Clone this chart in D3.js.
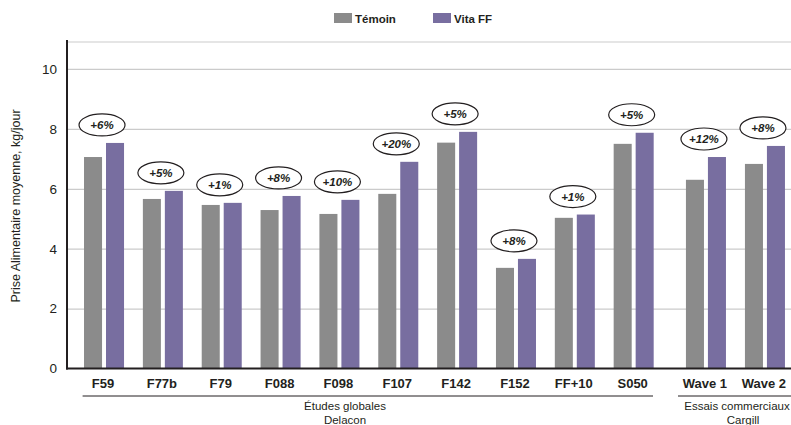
<!DOCTYPE html>
<html>
<head>
<meta charset="utf-8">
<script src="https://cdn.jsdelivr.net/npm/d3@7"></script>
<style>
  html, body { margin: 0; padding: 0; background: #fff; }
  svg { display: block; font-family: Helvetica, Arial, "Liberation Sans", sans-serif; }
</style>
</head>
<body>
<svg id="chart" width="791" height="425"></svg>
<script>
// ---- Data ----
const series = ["Témoin", "Vita FF"];
const groupDelacon = ["F59", "F77b", "F79", "F088", "F098", "F107", "F142", "F152", "FF+10", "S050"];
const groupCargill = ["Wave 1", "Wave 2"];
const temoinValues = [7.06, 5.66, 5.46, 5.29, 5.16, 5.83, 7.54, 3.36, 5.03, 7.50, 6.30, 6.83];
const vitaValues   = [7.53, 5.93, 5.53, 5.76, 5.63, 6.90, 7.90, 3.66, 5.14, 7.87, 7.06, 7.43];
const gainLabels   = ["+6%", "+5%", "+1%", "+8%", "+10%", "+20%", "+5%", "+8%", "+1%", "+5%", "+12%", "+8%"];
const yTicks = [0, 2, 4, 6, 8, 10];
const groupTitles = [["Études globales", "Delacon"], ["Essais commerciaux", "Cargill"]];

const categories = groupDelacon.concat(groupCargill);
const rows = categories.map((c, i) => ({
  cat: c,
  group: i < groupDelacon.length ? 0 : 1,
  values: [temoinValues[i], vitaValues[i]],
  label: gainLabels[i]
}));

// ---- Layout ----
const colors = { "Témoin": "#8b8b8b", "Vita FF": "#786ea0" };
const svg = d3.select("#chart");
const W = 791;
const axisX = 67;

const y = d3.scaleLinear().domain([0, 10.9]).range([368.5, 42]);

const x1 = d3.scaleBand().domain(groupDelacon).range([74.6, 663.1]).paddingInner(0.32).paddingOuter(0.16);
const x2 = d3.scaleBand().domain(groupCargill).range([676.5, 794.5]).paddingInner(0.32).paddingOuter(0.16);
const xScales = [x1, x2];
const xs = d3.scaleBand().domain(series).range([0, x1.bandwidth()]).paddingInner(0.18);

// gridlines
const grid = svg.append("g").attr("transform", `translate(${axisX},0)`)
  .call(d3.axisLeft(y).tickValues(yTicks.slice(1)).tickSize(-(W - axisX)).tickFormat(""));
grid.select(".domain").remove();
grid.selectAll("line").attr("stroke", "#cbcbcb").attr("stroke-width", 1.2);
svg.append("line").attr("x1", axisX).attr("x2", W).attr("y1", y(10.9)).attr("y2", y(10.9))
  .attr("stroke", "#cbcbcb").attr("stroke-width", 1.2);

// y tick labels
const yAxis = svg.append("g").attr("transform", `translate(${axisX},0)`)
  .call(d3.axisLeft(y).tickValues(yTicks).tickSize(0).tickPadding(10).tickFormat(d3.format("d")));
yAxis.select(".domain").remove();
yAxis.selectAll("text").attr("font-size", 13.5).attr("fill", "#231f20")
  .attr("font-family", "Helvetica, Arial, 'Liberation Sans', sans-serif");

// bars
const gCats = svg.append("g").selectAll("g").data(rows).join("g")
  .attr("transform", d => `translate(${xScales[d.group](d.cat)},0)`);
gCats.selectAll("rect").data(d => series.map((s, i) => ({ s, v: d.values[i] }))).join("rect")
  .attr("x", d => xs(d.s)).attr("width", xs.bandwidth())
  .attr("y", d => y(d.v)).attr("height", d => y(0) - y(d.v))
  .attr("fill", d => colors[d.s]);

// axes lines
svg.append("line").attr("x1", axisX).attr("x2", axisX).attr("y1", 40).attr("y2", y(0) + 1)
  .attr("stroke", "#231f20").attr("stroke-width", 2);
svg.append("line").attr("x1", axisX - 1).attr("x2", W).attr("y1", y(0)).attr("y2", y(0))
  .attr("stroke", "#231f20").attr("stroke-width", 2);

// gain ellipses
const bw = x1.bandwidth();
const lab = svg.append("g").selectAll("g").data(rows).join("g")
  .attr("transform", d => `translate(${xScales[d.group](d.cat) + bw / 2 - 2},${y(d3.max(d.values)) - 18})`);
lab.append("ellipse").attr("rx", 23).attr("ry", 11)
  .attr("fill", "#fff").attr("stroke", "#231f20").attr("stroke-width", 1.2);
lab.append("text").attr("text-anchor", "middle").attr("dy", "0.36em")
  .attr("font-size", 11.5).attr("font-style", "italic").attr("font-weight", "bold")
  .attr("fill", "#231f20").text(d => d.label);

// x category labels
svg.append("g").selectAll("text").data(rows).join("text")
  .attr("x", d => xScales[d.group](d.cat) + bw / 2 - 1)
  .attr("y", 387.5)
  .attr("text-anchor", "middle").attr("font-size", 13).attr("font-weight", "bold")
  .attr("fill", "#231f20").text(d => d.cat);

// group separator lines and titles
const groupLines = [[x1.range()[0] + 8, 653], [678, W]];
svg.append("g").selectAll("line").data(groupLines).join("line")
  .attr("x1", d => d[0]).attr("x2", d => d[1]).attr("y1", 396).attr("y2", 396)
  .attr("stroke", "#231f20").attr("stroke-width", 1);

const titleX = [345, 737];
groupTitles.forEach((t, gi) => {
  t.forEach((line, li) => {
    svg.append("text").attr("x", titleX[gi] + (gi === 1 && li === 1 ? 6 : 0)).attr("y", 410 + li * 13.5)
      .attr("text-anchor", "middle").attr("font-size", 11.5).attr("fill", "#231f20").text(line);
  });
});

// y axis title
svg.append("text").attr("transform", "translate(20,206) rotate(-90)")
  .attr("text-anchor", "middle").attr("font-size", 12.5).attr("fill", "#231f20")
  .text("Prise Alimentaire moyenne, kg/jour");

// legend
const legendX = [334, 433];
const leg = svg.append("g").selectAll("g").data(series).join("g")
  .attr("transform", (d, i) => `translate(${legendX[i]},13)`);
leg.append("rect").attr("width", 18).attr("height", 10).attr("fill", d => colors[d]);
leg.append("text").attr("x", 21).attr("y", 9.5).attr("font-size", 11.5).attr("font-weight", "bold")
  .attr("fill", "#231f20").text(d => d);
</script>
</body>
</html>
